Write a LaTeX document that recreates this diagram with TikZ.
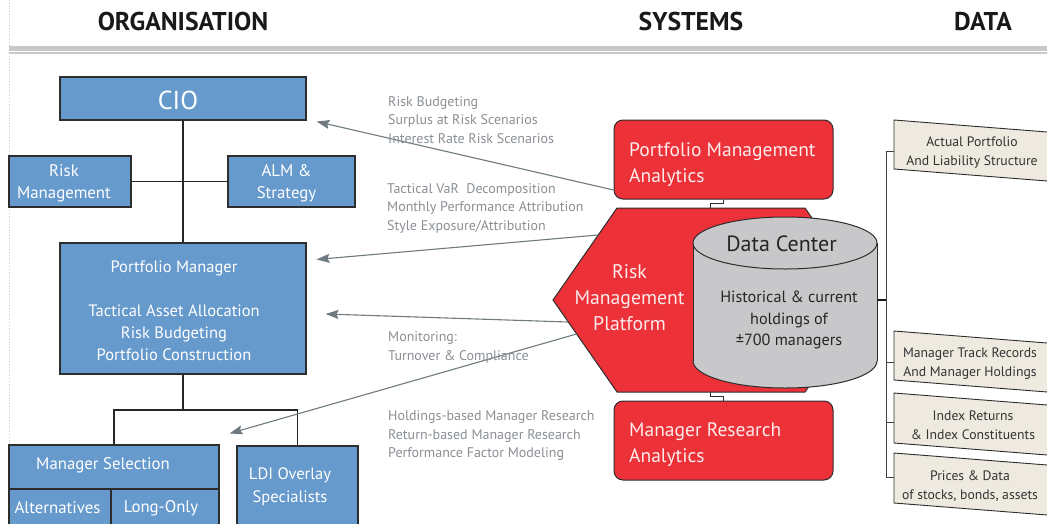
\documentclass[tikz,border=0pt]{standalone}
\usepackage{fontspec}
\setmainfont{PT Sans}
\usetikzlibrary{arrows.meta,calc}
\definecolor{orgblue}{RGB}{102,153,204}
\definecolor{sysred}{RGB}{237,49,56}
\definecolor{systext}{RGB}{253,236,236}
\definecolor{dcgray}{RGB}{200,200,202}
\definecolor{databg}{RGB}{238,234,224}
\definecolor{edge}{RGB}{45,45,45}
\definecolor{flow}{RGB}{110,122,128}
\definecolor{note}{RGB}{138,143,148}
\definecolor{rulegray}{RGB}{200,200,200}
\definecolor{guide}{RGB}{190,205,230}

\begin{document}
\begin{tikzpicture}[x=1pt,y=-1pt,
  orgbox/.style={draw=edge, line width=1.1pt, fill=orgblue, inner sep=0pt},
  orgtext/.style={text=white, align=center, inner sep=0pt, font=\fontsize{16.8}{22}\selectfont},
  sysbox/.style={draw=edge, line width=1pt, fill=sysred, rounded corners=9pt,
                 minimum width=219pt, minimum height=79pt},
  systxt/.style={text=systext, anchor=west, align=left, inner sep=0pt, font=\fontsize{19.5}{26}\selectfont},
  hexshape/.style={draw=edge, line width=1pt, fill=sysred},
  datashape/.style={draw=edge, line width=0.9pt, fill=databg},
  datatext/.style={text=black!80, align=center, font=\fontsize{13.7}{19}\selectfont},
  notetext/.style={text=note, anchor=west, align=left, inner sep=0pt, font=\fontsize{14}{18.5}\selectfont},
  header/.style={font=\bfseries\fontsize{25.7}{30}\selectfont, text=black!90},
  orgline/.style={draw=black!85, line width=1.1pt},
  dataline/.style={draw=black!75, line width=0.9pt},
  flowarrow/.style={draw=flow, line width=1.1pt, -{Stealth[length=13pt,width=9pt,inset=2pt]}}
]
\useasboundingbox (0,0) rectangle (1047,523);

% page furniture
\draw[guide, dotted, line width=0.8pt] (9.5,0) -- (9.5,523);
\fill[rulegray] (9,46) rectangle (1047,50.7);
\draw[rulegray, line width=1.6pt] (9,53.2) -- (1047,53.2);

\node[header] (hOrg) at (183,22) {ORGANISATION};
\node[header] (hSys) at (691,22) {SYSTEMS};
\node[header] (hDat) at (983,22) {DATA};

% ---------------- organisation ----------------
\node[orgbox, minimum width=246pt, minimum height=43pt] (cio) at (183,98.5) {};
\node[orgbox, minimum width=122pt, minimum height=51pt] (risk) at (70,181.5) {};
\node[orgbox, minimum width=127pt, minimum height=51pt] (alm) at (291.5,181.5) {};
\node[orgbox, minimum width=246pt, minimum height=131pt] (pm) at (183,308.5) {};
\node[orgbox, minimum width=210pt, minimum height=44pt] (ms) at (114,467) {};
\node[orgbox, minimum width=102pt, minimum height=36pt] (alt) at (60,507) {};
\node[orgbox, minimum width=108pt, minimum height=36pt] (lo) at (165,507) {};
\node[orgbox, minimum width=121pt, minimum height=84pt] (ldi) at (297.5,488) {};

\node[orgtext, font=\fontsize{26}{30}\selectfont] (cioT) at (178,100.5) {CIO};
\node[orgtext] (riskT) at (64,183) {Risk\\Management};
\node[orgtext] (almT) at (286.5,183) {ALM \&\\Strategy};
\node[orgtext, font=\fontsize{16.5}{22}\selectfont] (pmT) at (174,310.5)
  {Portfolio Manager\\[22pt]Tactical Asset Allocation\\Risk Budgeting\\Portfolio Construction};
\node[orgtext] (msT) at (103,465) {Manager Selection};
\node[orgtext] (altT) at (57.5,508) {Alternatives};
\node[orgtext] (loT) at (161,508) {Long-Only};
\node[orgtext, font=\fontsize{16.5}{23}\selectfont] (ldiT) at (290,486.5) {LDI Overlay\\Specialists};

\draw[orgline] (cio.south) -- (pm.north);
\draw[orgline] (risk.east) -- (alm.west);
\coordinate (split) at (183,410);
\draw[orgline] (pm.south) -- (split);
\draw[orgline] (ms.north) |- (split) -| (ldi.north);

% ---------------- systems ----------------
\node[sysbox] (pma) at (723.5,159.5) {};
\node[sysbox] (mra) at (723.5,440.5) {};
\node[systxt] (pmaT) at (629,165) {Portfolio Management\\Analytics};
\node[systxt] (mraT) at (629,445) {Manager Research\\Analytics};

\draw[hexshape] (617,208) -- (805,208) -- (869,300) -- (805,392) -- (617,392) -- (553,300) -- cycle;
\node[text=systext, align=center, font=\fontsize{19.7}{26}\selectfont] (rmp) at (629.5,298) {Risk\\Management\\Platform};
\coordinate (hexN) at (710,208);
\coordinate (hexS) at (710,392);
\draw[line width=0.9pt, draw=edge] (pma.south) -- ++(0,4) -| (hexN);
\draw[line width=0.9pt, draw=edge] (hexS) -- ++(0,4) -| (mra.north);

% data center cylinder
\draw[draw=edge, line width=1pt, fill=dcgray] (785,361) ellipse [x radius=92, y radius=27];
\fill[dcgray] (693,243) rectangle (877,361);
\draw[draw=edge, line width=1pt] (693,243) -- (693,361) (877,243) -- (877,361);
\draw[draw=edge, line width=1pt, fill=dcgray] (785,243) ellipse [x radius=92, y radius=26];
\node[minimum width=184pt, minimum height=171pt, inner sep=0pt] (dc) at (785,302.5) {};
\node[text=black!85, font=\fontsize{22}{26}\selectfont] (dcT) at (781.5,244) {Data Center};
\node[text=black!85, align=center, font=\fontsize{16.2}{21.5}\selectfont] (dcB) at (789,320)
  {Historical \& current\\holdings of\\±700 managers};

% ---------------- data ----------------
\draw[datashape] (894,120) -- (1060,133) -- (1060,182) -- (894,169) -- cycle;
\draw[datashape] (894,331) -- (1060,344) -- (1060,393) -- (894,380) -- cycle;
\draw[datashape] (894,393) -- (1060,406) -- (1060,456) -- (894,443) -- cycle;
\draw[datashape] (894,453) -- (1060,466) -- (1060,516) -- (894,503) -- cycle;
\node[datatext] (d1) at (972,153) {Actual Portfolio\\And Liability Structure};
\node[datatext] (d2) at (970,364) {Manager Track Records\\And Manager Holdings};
\node[datatext] (d3) at (973,425) {Index Returns\\\& Index Constituents};
\node[datatext] (d4) at (970,486.5) {Prices \& Data\\of stocks, bonds, assets};
\coordinate (d1in) at (894,151);
\coordinate (d2in) at (894,362);
\coordinate (d3in) at (894,422);
\coordinate (d4in) at (894,477);

\coordinate (hub) at (886,300);
\draw[draw=black!90, line width=1.8pt] (dc.east |- hub) -- (hub);
\draw[dataline] (d1in) -| (hub);
\draw[dataline] (d4in) -| (hub);
\draw[dataline] (d2in) -- (d2in -| hub);
\draw[dataline] (d3in) -- (d3in -| hub);

% ---------------- flows ----------------
\coordinate (s1) at ($(pma.west)+(0,30.5)$);
\coordinate (s2) at (598,235);
\coordinate (s3) at (568,322);
\coordinate (s4) at (576.5,334);
\coordinate (t1) at ($(cio.south east)+(10,1)$);
\coordinate (t2) at ($(pm.north east)+(10,17)$);
\coordinate (t3) at ($(pm.east)+(19,5.5)$);
\coordinate (t4) at ($(ms.north east)+(10,-11)$);
\draw[flowarrow] (s1) -- (t1);
\draw[flowarrow] (s2) -- (t2);
\draw[flowarrow] (s3) -- (t3);
\draw[flowarrow] (s4) -- (t4);

\node[notetext] (n1) at (388,120) {Risk Budgeting\\Surplus at Risk Scenarios\\Interest Rate Risk Scenarios};
\node[notetext] (n2) at (387,208) {Tactical VaR\ \ Decomposition\\Monthly Performance Attribution\\Style Exposure/Attribution};
\node[notetext] (n3) at (388,347.5) {Monitoring:\\Turnover \& Compliance};
\node[notetext] (n4) at (388,436) {Holdings-based Manager Research\\Return-based Manager Research\\Performance Factor Modeling};
\end{tikzpicture}
\end{document}
